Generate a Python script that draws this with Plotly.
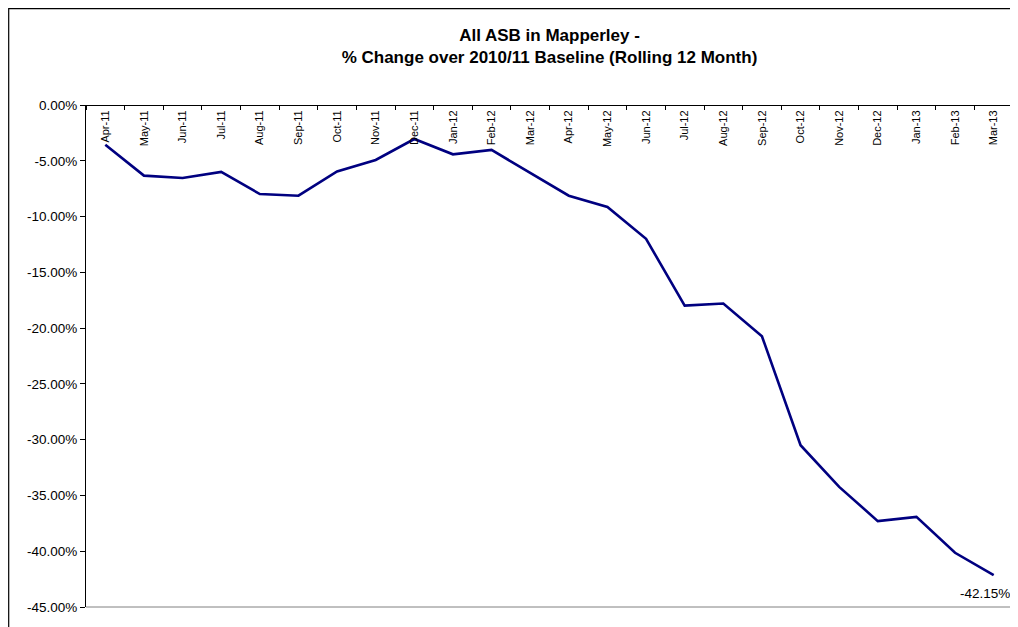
import plotly.graph_objects as go

months = ["Apr-11", "May-11", "Jun-11", "Jul-11", "Aug-11", "Sep-11", "Oct-11", "Nov-11",
          "Dec-11", "Jan-12", "Feb-12", "Mar-12", "Apr-12", "May-12", "Jun-12", "Jul-12",
          "Aug-12", "Sep-12", "Oct-12", "Nov-12", "Dec-12", "Jan-13", "Feb-13", "Mar-13"]
pct_change = [-3.56, -6.33, -6.54, -6.00, -7.98, -8.13, -5.95, -4.93,
              -3.05, -4.42, -4.03, -6.10, -8.13, -9.14, -12.00, -17.98,
              -17.80, -20.73, -30.50, -34.23, -37.30, -36.92, -40.14, -42.15]
y_tick_vals = [0, -5, -10, -15, -20, -25, -30, -35, -40, -45]
y_tick_text = ["0.00%", "-5.00%", "-10.00%", "-15.00%", "-20.00%", "-25.00%",
               "-30.00%", "-35.00%", "-40.00%", "-45.00%"]
last_label = "-42.15%"

FONT = "Liberation Sans, Arial, sans-serif"

W, H = 1010, 619
L, T, R, B = 78, 97, 5, 20
pw, ph = W - L - R, H - T - B

fig = go.Figure()
fig.add_trace(go.Scatter(
    x=months, y=pct_change, mode="lines",
    line=dict(color="#000080", width=2.6),
    hoverinfo="x+y", showlegend=False,
))

fig.update_layout(
    width=W, height=H,
    margin=dict(l=L, r=R, t=T, b=B),
    paper_bgcolor="white", plot_bgcolor="white",
    font=dict(family=FONT, color="#000000"),
    title=dict(
        text="All ASB in Mapperley -<br>% Change over 2010/11 Baseline (Rolling 12 Month)",
        x=0.5, xref="paper", xanchor="center",
        y=1 - 33 / H, yanchor="middle",
        font=dict(family=FONT, size=17, color="#000000", weight="bold"),
    ),
    xaxis=dict(
        type="category",
        categoryorder="array", categoryarray=months,
        anchor="free", position=1, side="bottom",
        showline=True, linecolor="#000000", linewidth=1,
        ticks="outside", ticklen=4, tickcolor="#000000", tickwidth=1,
        tickson="boundaries",
        tickangle=-90,
        tickfont=dict(family=FONT, size=11, color="#000000"),
        showgrid=False, zeroline=False,
        range=[-0.5, len(months) - 0.5],
    ),
    yaxis=dict(
        range=[-45, 0],
        tickvals=y_tick_vals, ticktext=y_tick_text,
        showline=True, linecolor="#000000", linewidth=1,
        ticks="outside", ticklen=5, tickcolor="#000000",
        tickfont=dict(family=FONT, size=13.5, color="#000000"),
        showgrid=False, zeroline=False,
    ),
    shapes=[
        dict(type="line", xref="paper", yref="paper", x0=0, x1=1, y0=0, y1=0,
             line=dict(color="#808080", width=1)),
        dict(type="line", xref="paper", yref="paper", x0=1, x1=1, y0=0, y1=1,
             line=dict(color="#808080", width=1)),
        dict(type="rect", xref="paper", yref="paper",
             x0=(0.7 - L) / pw, x1=(W + 20 - L) / pw,
             y0=(H - B - (H + 20)) / ph, y1=1 + (T - 0.7) / ph,
             line=dict(color="#000000", width=1.2), fillcolor="rgba(0,0,0,0)"),
    ],
    annotations=[
        dict(x=months[-1], y=pct_change[-1], xref="x", yref="y",
             text=last_label, showarrow=False,
             xanchor="right", yanchor="top", xshift=18, yshift=-9,
             font=dict(family=FONT, size=13.5, color="#000000")),
    ],
)

fig.write_html("out.html")
